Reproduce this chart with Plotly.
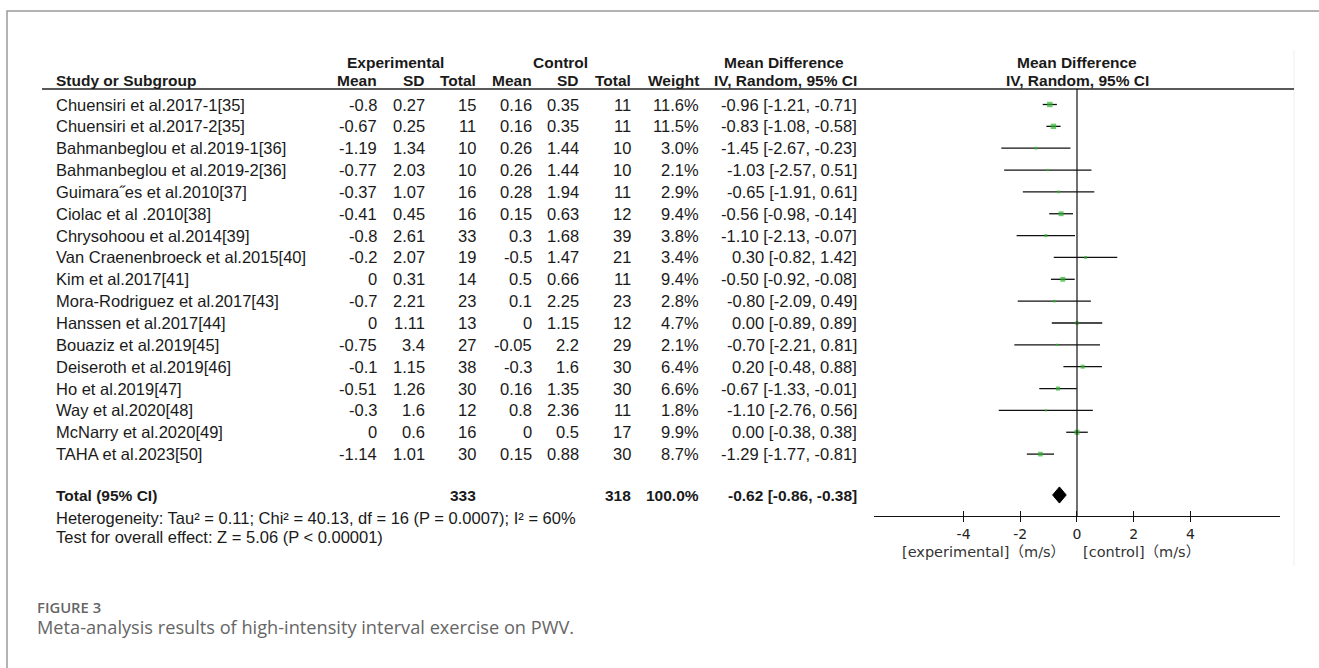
import plotly.graph_objects as go

W, H = 1319, 668

studies = ["Chuensiri et al.2017-1[35]", "Chuensiri et al.2017-2[35]",
           "Bahmanbeglou et al.2019-1[36]", "Bahmanbeglou et al.2019-2[36]",
           "Guimara\u02ddes et al.2010[37]", "Ciolac et al .2010[38]",
           "Chrysohoou et al.2014[39]", "Van Craenenbroeck et al.2015[40]",
           "Kim et al.2017[41]", "Mora-Rodriguez et al.2017[43]",
           "Hanssen et al.2017[44]", "Bouaziz et al.2019[45]",
           "Deiseroth et al.2019[46]", "Ho et al.2019[47]",
           "Way et al.2020[48]", "McNarry et al.2020[49]", "TAHA et al.2023[50]"]
exp_mean = [-0.8, -0.67, -1.19, -0.77, -0.37, -0.41, -0.8, -0.2, 0, -0.7, 0, -0.75, -0.1, -0.51, -0.3, 0, -1.14]
exp_sd = [0.27, 0.25, 1.34, 2.03, 1.07, 0.45, 2.61, 2.07, 0.31, 2.21, 1.11, 3.4, 1.15, 1.26, 1.6, 0.6, 1.01]
exp_n = [15, 11, 10, 10, 16, 16, 33, 19, 14, 23, 13, 27, 38, 30, 12, 16, 30]
ctrl_mean = [0.16, 0.16, 0.26, 0.26, 0.28, 0.15, 0.3, -0.5, 0.5, 0.1, 0, -0.05, -0.3, 0.16, 0.8, 0, 0.15]
ctrl_sd = [0.35, 0.35, 1.44, 1.44, 1.94, 0.63, 1.68, 1.47, 0.66, 2.25, 1.15, 2.2, 1.6, 1.35, 2.36, 0.5, 0.88]
ctrl_n = [11, 11, 10, 10, 11, 12, 39, 21, 11, 23, 12, 29, 30, 30, 11, 17, 30]
weight = [11.6, 11.5, 3.0, 2.1, 2.9, 9.4, 3.8, 3.4, 9.4, 2.8, 4.7, 2.1, 6.4, 6.6, 1.8, 9.9, 8.7]
md = [-0.96, -0.83, -1.45, -1.03, -0.65, -0.56, -1.10, 0.30, -0.50, -0.80, 0.00, -0.70, 0.20, -0.67, -1.10, 0.00, -1.29]
ci_lo = [-1.21, -1.08, -2.67, -2.57, -1.91, -0.98, -2.13, -0.82, -0.92, -2.09, -0.89, -2.21, -0.48, -1.33, -2.76, -0.38, -1.77]
ci_hi = [-0.71, -0.58, -0.23, 0.51, 0.61, -0.14, -0.07, 1.42, -0.08, 0.49, 0.89, 0.81, 0.88, -0.01, 0.56, 0.38, -0.81]

total_exp_n = 333
total_ctrl_n = 318
total_weight = 100.0
total_md, total_lo, total_hi = -0.62, -0.86, -0.38
heterogeneity = "Heterogeneity: Tau\u00b2 = 0.11; Chi\u00b2 = 40.13, df = 16 (P = 0.0007); I\u00b2 = 60%"
overall = "Test for overall effect: Z = 5.06 (P < 0.00001)"
tick_vals = [-4, -2, 0, 2, 4]
tick_text = ["-4", "-2", "0", "2", "4"]
favours_left = "[experimental]\uff08m/s\uff09"
favours_right = "[control]\uff08m/s\uff09"
caption_label = "FIGURE 3"
caption_text = "Meta-analysis results of high-intensity interval exercise on PWV."

# ---- layout geometry (pixels) ----
ROW0, ROWH = 104.5, 21.85
def row_of(py):
    return (py - ROW0) / ROWH
def px(x):
    return x / W
def py(y):
    return 1 - y / H

rows = list(range(len(studies)))
r_total = row_of(495)
r_het = row_of(518)
r_test = row_of(537)
r_hdr2 = row_of(80)
r_hdr1 = row_of(62)
r_line = row_of(89)
axis_py = 516
r_axis = row_of(axis_py)

zero_px, unit_px = 1077.0, 28.35
xr = 7.15
dom = [px(zero_px - xr * unit_px), px(zero_px + xr * unit_px)]

FONT = "Liberation Sans, Arial, sans-serif"
FS = 16.5
FSB = 15.5
TXT = "#1a1a1a"

fig = go.Figure()

# CI lines
lx, ly = [], []
for i in rows:
    lx += [ci_lo[i], ci_hi[i], None]
    ly += [i, i, None]
fig.add_trace(go.Scatter(x=lx, y=ly, mode="lines", line=dict(color="#111111", width=1.3),
                         hoverinfo="skip", showlegend=False))
# squares
fig.add_trace(go.Scatter(x=md, y=rows, mode="markers",
                         marker=dict(symbol="square", color="#2db52d",
                                     size=[1.6 * w ** 0.5 for w in weight], line=dict(width=0)),
                         showlegend=False))
# diamond
dh = 0.37
fig.add_trace(go.Scatter(x=[total_lo, total_md, total_hi, total_md, total_lo],
                         y=[r_total, r_total - dh, r_total, r_total + dh, r_total],
                         mode="lines", fill="toself", fillcolor="black",
                         line=dict(color="black", width=1), showlegend=False))

ann = []
def add(text, x, y, anchor="left", bold=False, size=None, color=TXT, family=FONT):
    ann.append(dict(text=("<b>%s</b>" % text) if bold else text, x=px(x), y=y,
                    xref="paper", yref="y", xanchor=anchor, yanchor="middle",
                    showarrow=False, borderpad=0,
                    font=dict(family=family, size=size or (FSB if bold else FS), color=color)))

col_x = dict(name=55, em=378, es=426, en=477, cm=533, cs=580, cn=632, w=700, ci=858)

# headers
add("Experimental", 395, r_hdr1, "center", True)
add("Control", 560, r_hdr1, "center", True)
add("Mean Difference", 784, r_hdr1, "center", True)
add("Mean Difference", zero_px, r_hdr1, "center", True)
add("Study or Subgroup", col_x["name"], r_hdr2, "left", True)
for key, lab in [("em", "Mean"), ("es", "SD"), ("en", "Total"), ("cm", "Mean"), ("cs", "SD"),
                 ("cn", "Total"), ("w", "Weight"), ("ci", "IV, Random, 95% CI")]:
    add(lab, col_x[key], r_hdr2, "right", True)
add("IV, Random, 95% CI", zero_px, r_hdr2, "center", True)

for i in rows:
    add(studies[i], col_x["name"], i, "left")
    add(str(exp_mean[i]), col_x["em"], i, "right")
    add(str(exp_sd[i]), col_x["es"], i, "right")
    add(str(exp_n[i]), col_x["en"], i, "right")
    add(str(ctrl_mean[i]), col_x["cm"], i, "right")
    add(str(ctrl_sd[i]), col_x["cs"], i, "right")
    add(str(ctrl_n[i]), col_x["cn"], i, "right")
    add("%.1f%%" % weight[i], col_x["w"], i, "right")
    add("%.2f [%.2f, %.2f]" % (md[i], ci_lo[i], ci_hi[i]), col_x["ci"], i, "right")

add("Total (95% CI)", col_x["name"], r_total, "left", True)
add(str(total_exp_n), col_x["en"], r_total, "right", True)
add(str(total_ctrl_n), col_x["cn"], r_total, "right", True)
add("%.1f%%" % total_weight, col_x["w"], r_total, "right", True)
add("%.2f [%.2f, %.2f]" % (total_md, total_lo, total_hi), col_x["ci"], r_total, "right", True)
add(heterogeneity, col_x["name"], r_het, "left")
add(overall, col_x["name"], r_test, "left")

NOTEF = "DejaVu Sans, Noto Sans CJK SC, sans-serif"
add(favours_left, 1066, row_of(552), "right", size=14.5, color="#333333", family=NOTEF)
add(favours_right, 1082, row_of(552), "left", size=14.5, color="#333333", family=NOTEF)

add(caption_label, 36, row_of(607), "left", size=14.8, color="#666666",
    family="Open Sans, sans-serif")
ann[-1]["text"] = "<span style='font-weight:600'>%s</span>" % caption_label
add(caption_text, 36, row_of(627), "left", size=18.2, color="#666666",
    family="Open Sans, sans-serif")

shapes = [
    # frame
    dict(type="rect", xref="paper", yref="paper", x0=px(7), x1=px(1340), y0=py(700), y1=py(11),
         line=dict(color="#9a9a9a", width=1.5), fillcolor="rgba(0,0,0,0)", layer="below"),
    # faint artefact line at right
    dict(type="line", xref="paper", yref="paper", x0=px(1294), x1=px(1294), y0=py(50), y1=py(566),
         line=dict(color="#efefef", width=1), layer="below"),
    # header rule
    dict(type="line", xref="paper", yref="y", x0=px(42), x1=px(1294), y0=r_line, y1=r_line,
         line=dict(color="#222222", width=1.6)),
    # zero line
    dict(type="line", xref="x", yref="y", x0=0, x1=0, y0=r_line, y1=r_axis,
         line=dict(color="#111111", width=1.2)),
]

fig.update_layout(
    width=W, height=H, margin=dict(l=0, r=0, t=0, b=0),
    paper_bgcolor="white", plot_bgcolor="rgba(0,0,0,0)",
    showlegend=False, annotations=ann, shapes=shapes,
    xaxis=dict(domain=dom, range=[-xr, xr], anchor="free", position=py(axis_py),
               showgrid=False, zeroline=False, showline=True, linecolor="#111111", linewidth=1.2,
               ticks="outside", ticklen=5, tickwidth=1.2, tickcolor="#111111",
               tickvals=tick_vals, ticktext=tick_text,
               tickfont=dict(family="DejaVu Sans, sans-serif", size=14, color="#222222"),
               fixedrange=True),
    xaxis2=dict(domain=dom, range=[-xr, xr], anchor="free", position=py(axis_py),
                overlaying="x", matches="x", showgrid=False, zeroline=False, showline=False,
                ticks="inside", ticklen=5, tickwidth=1.2, tickcolor="#111111",
                tickvals=tick_vals, showticklabels=False),
    yaxis=dict(domain=[0, 1], range=[row_of(H), row_of(0)], visible=False, fixedrange=True),
)
# invisible trace so that the overlaid tick axis is drawn
fig.add_trace(go.Scatter(x=[0], y=[r_axis], xaxis="x2", mode="markers",
                         marker=dict(size=0.1, opacity=0), hoverinfo="skip", showlegend=False))

fig.write_html("out.html")
